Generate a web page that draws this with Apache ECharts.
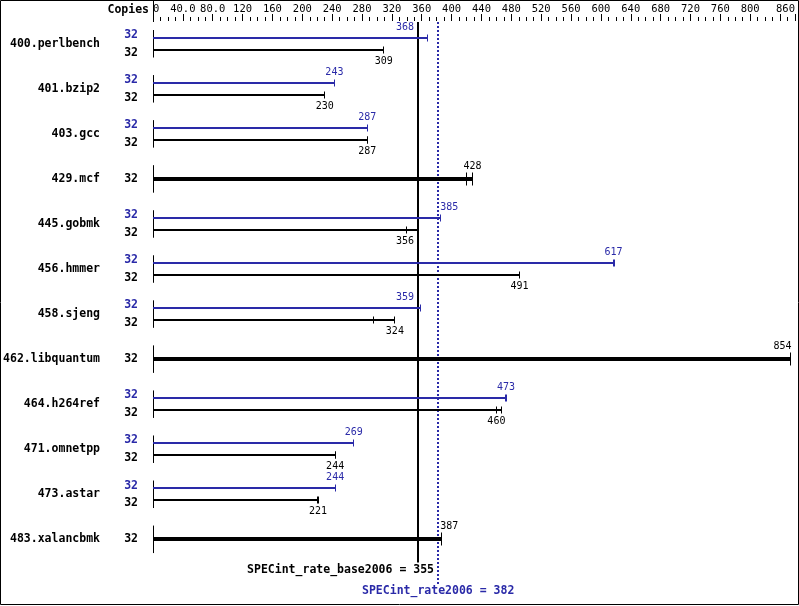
<!DOCTYPE html>
<html><head><meta charset="utf-8">
<script src="https://cdn.jsdelivr.net/npm/echarts@6/dist/echarts.min.js"></script>
<style>html,body{margin:0;padding:0;background:#fff}#c{width:799px;height:606px}</style>
</head><body><div id="c"></div>
<script>
const benchmarks = ['400.perlbench','401.bzip2','403.gcc','429.mcf','445.gobmk','456.hmmer','458.sjeng','462.libquantum','464.h264ref','471.omnetpp','473.astar','483.xalancbmk'];
const copiesPeak = [32,32,32,null,32,32,32,null,32,32,32,null];
const copiesBase = [32,32,32,32,32,32,32,32,32,32,32,32];
const peakMedian = [368,243,287,null,385,617,359,null,473,269,244,null];
const baseMedian = [309,230,287,428,356,491,324,854,460,244,221,387];
const peakRuns = [[368],[243],[287],null,[385],[617,618],[359],null,[472,474],[269],[244],null];
const baseRuns = [[309],[230],[287,288],[420,428],[340,356],[491],[296,324],[854],[460,467],[244,245],[221,222],[387]];
const baseScore = 355;
const peakScore = 382;
const baseScoreLabel = 'SPECint_rate_base2006 = 355';
const peakScoreLabel = 'SPECint_rate2006 = 382';
const tickValues = [0,40,80,120,160,200,240,280,320,360,400,440,480,520,560,600,640,680,720,760,800,840,860];
const tickLabels = ['0','40.0','80.0','120','160','200','240','280','320','360','400','440','480','520','560','600','640','680','720','760','800','','860'];
const xMax = 860;

const BLUE = '#2a2aa8';
const MONO = '"DejaVu Sans Mono", monospace';

function ln(x1, y1, x2, y2, color, w, dash) {
  return { type: 'line', shape: { x1, y1, x2, y2 }, style: { stroke: color, lineWidth: w, lineDash: dash || null }, silent: true };
}
function tx(text, x, y, color, align, bold, size) {
  return { type: 'text', style: { text: String(text), x, y, fill: color, align: align, verticalAlign: 'middle',
    font: (bold ? 'bold ' : '') + (size || 10) + 'px ' + MONO }, silent: true };
}
const px = x => Math.floor(x) + 0.5;

const chart = echarts.init(document.getElementById('c'), null, { renderer: 'canvas' });

function renderRow(params, api) {
  const i = api.value(1);
  const cs = params.coordSys;
  const cy = api.coord([0, i])[1];
  const X = v => api.coord([v, i])[0];
  const x0 = X(0);
  const baseX = X(baseScore), peakX = X(peakScore);
  const mid = (baseX + peakX) / 2;
  const children = [];
  children.push(ln(px(x0), cy - 13.5, px(x0), cy + 14, '#000', 1));
  function valueLabel(v, y, color) {
    const s = String(v);
    const w = s.length * 6;
    let x = X(v), align = 'center';
    const l = x - w / 2 - 1, r = x + w / 2 + 1;
    const hit = (lx) => lx >= l - 1 && lx <= r + 1;
    if (hit(baseX) || hit(peakX)) {
      if (x < mid) { x = baseX - 4; align = 'right'; } else { x = peakX + 2; align = 'left'; }
    } else if (r > cs.x + cs.width - 2) {
      x = X(v) + 1; align = 'right';
    }
    children.push(tx(s, x, y, color, align, false, 10));
  }
  function bar(runs, y, color, w, th) {
    const end = Math.max.apply(null, runs);
    const yy = w % 2 === 0 ? Math.round(y) : Math.floor(y) + 0.5;
    children.push(ln(x0, yy, X(end), yy, color, w));
    runs.forEach(r => children.push(ln(px(X(r)), yy - th, px(X(r)), yy + th, color, 1)));
  }
  if (peakRuns[i] == null) {
    bar(baseRuns[i], cy, '#000', 4, 6.5);
    valueLabel(baseMedian[i], cy - 12.5, '#000');
    children.push(tx(copiesBase[i], x0 - 15, cy, '#000', 'right', true, 11.5));
  } else {
    bar(peakRuns[i], cy - 6, BLUE, 2, 3.5);
    valueLabel(peakMedian[i], cy - 16.5, BLUE);
    bar(baseRuns[i], cy + 6, '#000', 2, 3.5);
    valueLabel(baseMedian[i], cy + 17.5, '#000');
    children.push(tx(copiesPeak[i], x0 - 15, cy - 8.5, BLUE, 'right', true, 11.5));
    children.push(tx(copiesBase[i], x0 - 15, cy + 9, '#000', 'right', true, 11.5));
  }
  return { type: 'group', children };
}

function renderSummary(params, api) {
  const cs = params.coordSys;
  const X = v => api.coord([v, 0])[0];
  const x0 = X(0), baseX = X(baseScore), peakX = X(peakScore);
  const bx = Math.round(baseX), pxx = Math.round(peakX);
  return { type: 'group', children: [
    ln(px(x0), 0, px(x0), cs.y + 1, '#000', 1),
    tx('Copies', x0 - 4, 10, '#000', 'right', true, 11.5),
    ln(bx, cs.y + 1, bx, cs.y + cs.height + 1, '#000', 2),
    ln(pxx, cs.y + 1, pxx, cs.y + cs.height + 23, BLUE, 2, [2, 2]),
    tx(baseScoreLabel, baseX + 16, 570, '#000', 'right', true, 11.5),
    tx(peakScoreLabel, peakX, 591, BLUE, 'center', true, 11.5)
  ]};
}

chart.setOption({
  animation: false,
  backgroundColor: '#fff',
  grid: { left: 153, right: 4, top: 21, height: 540.6, containLabel: false },
  xAxis: [
    { type: 'value', position: 'top', min: 0, max: xMax, interval: 40,
      axisLine: { show: false }, splitLine: { show: false },
      axisTick: { show: true, length: 7, lineStyle: { color: '#000', width: 1 } },
      axisLabel: { show: true, margin: 6, color: '#000', fontFamily: MONO, fontSize: 10.5,
        alignMinLabel: 'left', alignMaxLabel: 'right',
        formatter: v => { const k = tickValues.indexOf(v); return k >= 0 ? tickLabels[k] : ''; } } },
    { type: 'value', position: 'top', min: 0, max: xMax, interval: 10,
      axisLine: { show: false }, splitLine: { show: false },
      axisTick: { show: true, length: 4, lineStyle: { color: '#000', width: 1 } },
      axisLabel: { show: false } }
  ],
  yAxis: { type: 'category', inverse: true, data: benchmarks,
    axisLine: { show: false }, axisTick: { show: false }, splitLine: { show: false },
    axisLabel: { margin: 53, color: '#000', fontFamily: MONO, fontSize: 11.5, fontWeight: 'bold' } },
  graphic: [{ type: 'rect', shape: { x: 0.5, y: 0.5, width: 798, height: 604 }, style: { fill: null, stroke: '#000', lineWidth: 1 }, silent: true }],
  series: [
    { type: 'custom', xAxisIndex: 0, renderItem: renderSummary, data: [[baseScore, 0]], encode: { x: 0, y: 1 }, clip: false, z: 1 },
    { type: 'custom', xAxisIndex: 0, renderItem: renderRow, data: benchmarks.map((n, i) => [0, i]), encode: { x: 0, y: 1 }, clip: false, z: 2 }
  ]
});
</script></body></html>
